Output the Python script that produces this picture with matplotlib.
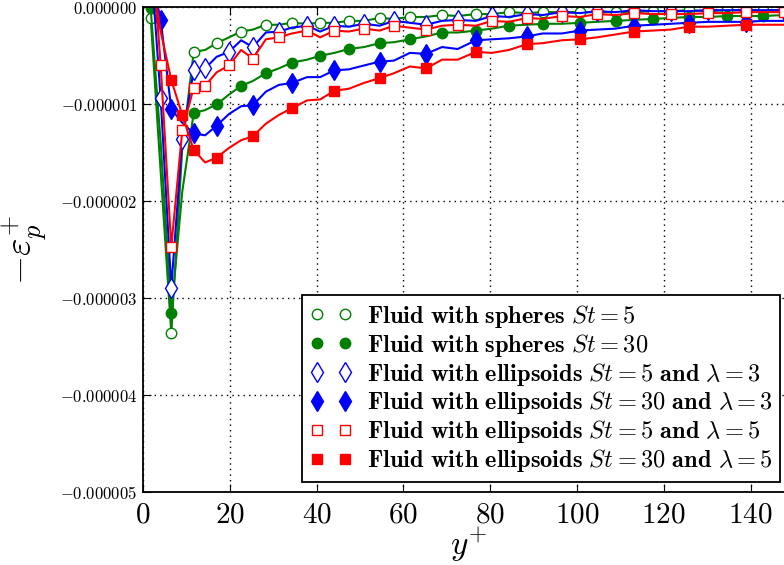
import numpy as np
import matplotlib
matplotlib.use('Agg')
import matplotlib.pyplot as plt
from matplotlib.lines import Line2D
from matplotlib.ticker import FuncFormatter

plt.rcParams['mathtext.fontset'] = 'cm'
plt.rcParams['font.family'] = 'serif'
plt.rcParams['font.serif'] = ['DejaVu Serif']

# wall-normal coordinate y+
yplus = [0, 1.75, 4.06, 6.5, 9.03, 11.66, 14.3, 16.96, 19.8, 22.6, 25.3, 28.3, 31.3,
         34.3, 37.8, 40.8, 44.1, 47.4, 50.9, 54.5, 57.8, 61.5, 65.2, 68.9, 72.5, 76.7,
         80.4, 84.3, 88.5, 92.1, 96.5, 100.7, 104.6, 108.9, 113.1, 117.5, 121.6, 125.8,
         130.2, 134.5, 138.9, 142.8, 147.7, 151.8]

# -eps_p^+ in units of 1e-6
sph_st5 = [0.2, -0.11, -1.7, -3.36, -1.45, -0.46, -0.44, -0.37, -0.31, -0.25, -0.23, -0.18,
           -0.18, -0.16, -0.17, -0.16, -0.16, -0.14, -0.14, -0.11, -0.12, -0.10, -0.10,
           -0.08, -0.09, -0.07, -0.07, -0.05, -0.06, -0.05, -0.05, -0.05, -0.05, -0.05,
           -0.05, -0.04, -0.04, -0.03, -0.04, -0.03, -0.03, -0.03, -0.03, -0.03]
sph_st30 = [0.1, -0.01, -1.4, -3.15, -1.9, -1.09, -1.06, -1.00, -0.90, -0.81, -0.76, -0.68,
            -0.63, -0.57, -0.54, -0.50, -0.47, -0.43, -0.41, -0.37, -0.36, -0.33, -0.30,
            -0.26, -0.26, -0.24, -0.22, -0.19, -0.18, -0.17, -0.17, -0.16, -0.15, -0.14,
            -0.13, -0.12, -0.11, -0.10, -0.10, -0.09, -0.09, -0.09, -0.08, -0.08]
ell3_st5 = [1.5, 0.5, -0.94, -2.89, -1.36, -0.65, -0.63, -0.51, -0.46, -0.34, -0.41, -0.26,
            -0.25, -0.21, -0.19, -0.25, -0.19, -0.20, -0.17, -0.19, -0.14, -0.16, -0.18,
            -0.14, -0.13, -0.14, -0.09, -0.10, -0.07, -0.08, -0.05, -0.06, -0.04, -0.05,
            -0.03, -0.04, -0.04, -0.04, -0.03, -0.03, -0.03, -0.03, -0.03, -0.03]
ell3_st30 = [0.5, 0.35, -0.13, -1.05, -1.19, -1.30, -1.32, -1.22, -1.10, -1.02, -1.01, -0.87,
             -0.80, -0.78, -0.72, -0.72, -0.65, -0.64, -0.60, -0.56, -0.55, -0.47, -0.48,
             -0.41, -0.43, -0.34, -0.33, -0.32, -0.30, -0.27, -0.27, -0.24, -0.23, -0.22,
             -0.19, -0.18, -0.17, -0.16, -0.15, -0.15, -0.15, -0.14, -0.14, -0.14]
ell5_st5 = [2.0, 0.8, -0.60, -2.47, -1.27, -0.83, -0.81, -0.67, -0.60, -0.44, -0.53, -0.33,
            -0.31, -0.27, -0.24, -0.31, -0.24, -0.25, -0.22, -0.24, -0.19, -0.21, -0.23,
            -0.19, -0.18, -0.19, -0.14, -0.15, -0.11, -0.12, -0.09, -0.10, -0.07, -0.08,
            -0.06, -0.07, -0.07, -0.07, -0.06, -0.06, -0.05, -0.05, -0.05, -0.05]
ell5_st30 = [1.0, 0.4, -0.25, -0.75, -1.11, -1.47, -1.60, -1.55, -1.45, -1.37, -1.33, -1.20,
             -1.11, -1.04, -0.96, -0.95, -0.86, -0.84, -0.78, -0.73, -0.68, -0.61, -0.63,
             -0.54, -0.54, -0.46, -0.47, -0.44, -0.38, -0.37, -0.34, -0.33, -0.31, -0.28,
             -0.25, -0.24, -0.23, -0.20, -0.20, -0.19, -0.18, -0.18, -0.18, -0.18]

# which points carry a marker
mk_sph = list(range(1, 44, 2))
mk_st5 = [2, 3, 4, 5, 6] + list(range(8, 43, 2))
mk_ell3_st30 = [2, 3, 5, 7] + list(range(10, 41, 3))
mk_ell5_st30 = [3, 4, 5, 7] + list(range(10, 41, 3))

labels = [r'$\mathbf{Fluid\ with\ spheres}\ St=5$',
          r'$\mathbf{Fluid\ with\ spheres}\ St=30$',
          r'$\mathbf{Fluid\ with\ ellipsoids}\ St=5\ \mathbf{and}\ \lambda=3$',
          r'$\mathbf{Fluid\ with\ ellipsoids}\ St=30\ \mathbf{and}\ \lambda=3$',
          r'$\mathbf{Fluid\ with\ ellipsoids}\ St=5\ \mathbf{and}\ \lambda=5$',
          r'$\mathbf{Fluid\ with\ ellipsoids}\ St=30\ \mathbf{and}\ \lambda=5$']

series = [sph_st5, sph_st30, ell3_st5, ell3_st30, ell5_st5, ell5_st30]
marks = [mk_sph, mk_sph, mk_st5, mk_ell3_st30, mk_st5, mk_ell5_st30]
styles = [dict(color='green', marker='o', ms=7.5, mfc='white', mew=1.0),
          dict(color='green', marker='o', ms=7.5, mfc='green', mew=1.0),
          dict(color='blue', marker='d', ms=10, mfc='white', mew=1.0),
          dict(color='blue', marker='d', ms=10, mfc='blue', mew=1.0),
          dict(color='red', marker='s', ms=7.5, mfc='white', mew=1.0),
          dict(color='red', marker='s', ms=7.5, mfc='red', mew=1.0)]

x = np.array(yplus)

fig = plt.figure(figsize=(7.84, 5.65), dpi=100)
ax = fig.add_axes([0.1825, 0.1287, 0.8302, 0.8584])

handles = []
for y, mk, st, lab in zip(series, marks, styles, labels):
    ax.plot(x, np.array(y) * 1e-6, linestyle='-', linewidth=1.5, markevery=mk, **st)
    handles.append(Line2D([], [], linestyle='none', label=lab, **st))

ax.set_xlim(0, 150)
ax.set_ylim(-0.000005, 0)
ax.set_xticks(np.arange(0, 141, 20))
ax.set_yticks(np.arange(-5, 0.5, 1) * 1e-6)
ax.xaxis.set_major_formatter(FuncFormatter(lambda v, p: r'$%d$' % round(v)))
ax.yaxis.set_major_formatter(FuncFormatter(lambda v, p: r'$%.6f$' % (v + 0.0)))
ax.tick_params(axis='x', labelsize=21, direction='in', top=True, length=6, pad=6)
ax.tick_params(axis='y', labelsize=12, direction='in', right=True, length=6, pad=4)
ax.grid(True, color='k', linestyle=(0, (1, 3)), linewidth=1.0)
for s in ax.spines.values():
    s.set_linewidth(1.3)

ax.set_xlabel(r'$y^{+}$', fontsize=24, labelpad=-2)
ax.set_ylabel(r'$-\varepsilon_p^{+}$', fontsize=27, labelpad=8)

leg = ax.legend(handles=handles, loc='lower right', bbox_to_anchor=(0.995, 0.1474),
                bbox_transform=fig.transFigure, borderaxespad=0, numpoints=2,
                fontsize=17.6, labelspacing=0.08, fancybox=False, framealpha=1,
                handlelength=1.75, handletextpad=0.6, borderpad=0.3)
leg.get_frame().set_edgecolor('black')
leg.get_frame().set_linewidth(1.3)

fig.savefig('out.png', dpi=100)
